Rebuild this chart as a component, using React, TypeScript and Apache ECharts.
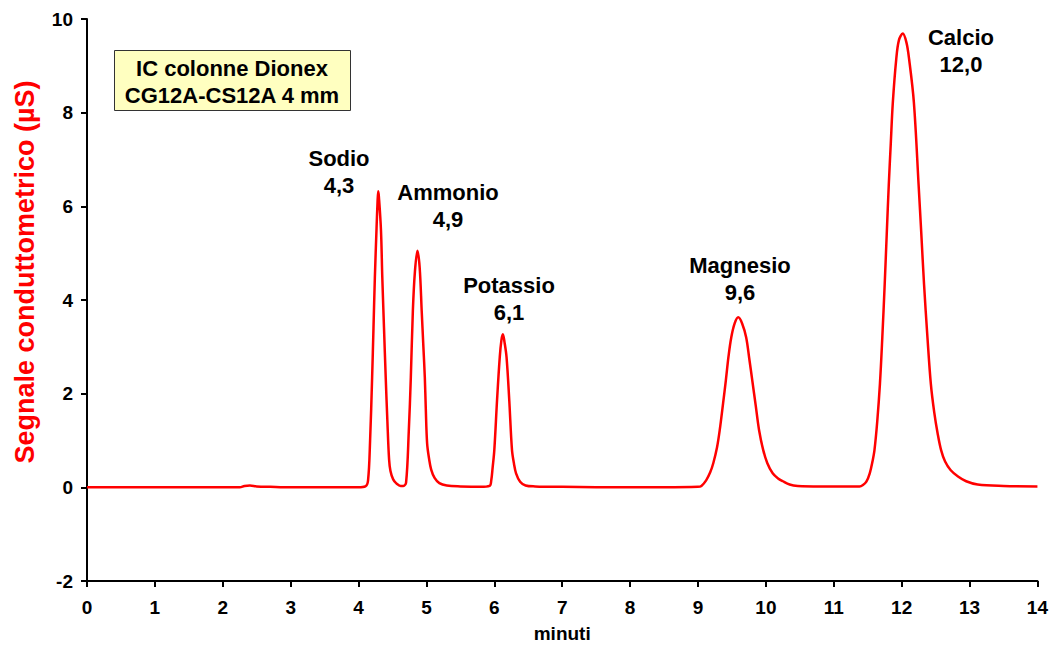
import React, { useEffect, useRef } from "react";
import * as echarts from "echarts";

// retention time (minutes)
const times: number[] = [
  0, 0.5, 1.0, 1.5, 2.0, 2.25, 2.32, 2.4, 2.5, 2.7, 3.0, 3.5, 4.0, 4.1,
  4.14, 4.17, 4.2, 4.22, 4.24, 4.265, 4.28, 4.29, 4.3, 4.33, 4.35, 4.375, 4.4, 4.425, 4.45, 4.47, 4.51, 4.56, 4.62, 4.66,
  4.7, 4.74, 4.77, 4.8, 4.83, 4.867, 4.9, 4.93, 4.955, 4.976, 4.99, 5.01, 5.04, 5.07, 5.12, 5.19, 5.3, 5.5, 5.8, 5.93,
  5.955, 5.975, 6.0, 6.04, 6.08, 6.105, 6.126, 6.15, 6.18, 6.22, 6.26, 6.29, 6.32, 6.38, 6.46, 6.6, 7.0, 8.0, 8.5, 9.0,
  9.05, 9.12, 9.18, 9.226, 9.28, 9.32, 9.37, 9.41, 9.45, 9.49, 9.54, 9.593, 9.65, 9.71, 9.755, 9.8, 9.85, 9.9, 9.96, 10.02, 10.1, 10.18, 10.25, 10.35, 10.47, 10.8, 11.2, 11.38,
  11.43, 11.48, 11.53, 11.57, 11.6, 11.64, 11.68, 11.715, 11.75, 11.78, 11.81, 11.84, 11.87, 11.92, 11.96, 12.017, 12.07, 12.11, 12.18, 12.25, 12.29, 12.33, 12.38, 12.43, 12.48, 12.53, 12.58, 12.64, 12.72, 12.83, 12.95, 13.12, 13.5, 14.0,
];

// conductivity signal (µS)
const signal: number[] = [
  0, 0, 0, 0, 0, 0, 0.03, 0.04, 0.02, 0.01, 0, 0, 0, 0.02,
  0.15, 1.0, 2.35, 3.4, 4.47, 5.53, 6.1, 6.32, 6.2, 5.5, 4.47, 3.4, 2.35, 1.4, 0.59, 0.35, 0.17, 0.08, 0.03, 0.03,
  0.1, 1.2, 2.35, 3.77, 4.6, 5.05, 4.7, 3.77, 3.0, 2.35, 1.7, 0.94, 0.6, 0.38, 0.2, 0.09, 0.04, 0.02, 0.01, 0.03,
  0.15, 0.42, 0.8, 1.86, 2.78, 3.15, 3.27, 3.1, 2.78, 1.86, 0.8, 0.5, 0.3, 0.12, 0.04, 0.02, 0.01, 0, 0, 0.01,
  0.03, 0.15, 0.32, 0.52, 0.85, 1.22, 1.8, 2.28, 2.8, 3.2, 3.5, 3.63, 3.5, 3.2, 2.75, 2.28, 1.75, 1.22, 0.8, 0.52, 0.3, 0.19, 0.13, 0.06, 0.03, 0.02, 0.02, 0.02,
  0.05, 0.12, 0.3, 0.55, 0.8, 1.4, 2.21, 3.2, 4.33, 5.4, 6.45, 7.35, 8.22, 9.14, 9.55, 9.69, 9.5, 9.14, 8.22, 6.45, 5.4, 4.33, 3.2, 2.21, 1.6, 1.15, 0.8, 0.55, 0.37, 0.23, 0.13, 0.06, 0.03, 0.02,
];

const peakNames: string[] = ["Sodio", "Ammonio", "Potassio", "Magnesio", "Calcio"];
const peakTimes: string[] = ["4,3", "4,9", "6,1", "9,6", "12,0"];
// label anchor (pixel) positions
const labelPos: [number, number][] = [
  [339, 158],
  [448, 192],
  [509, 285],
  [740, 265],
  [961, 37],
];

const xTicks = { min: 0, max: 14, interval: 1 };
const yTicks = { min: -2, max: 10, interval: 2 };

const FONT = "'Liberation Sans', Arial, sans-serif";

export default function App() {
  const ref = useRef<HTMLDivElement>(null);
  useEffect(() => {
    if (!ref.current) return;
    const chart = echarts.init(ref.current, undefined, { renderer: "svg" });
    const data = times.map((t, i) => [t, signal[i]]);
    const labels: any[] = [];
    peakNames.forEach((n, i) => {
      const [x, y] = labelPos[i];
      labels.push({
        type: "text",
        x,
        y,
        style: {
          text: n,
          font: `bold 22px ${FONT}`,
          fill: "#000",
          align: "center",
          verticalAlign: "middle",
        },
      });
      labels.push({
        type: "text",
        x,
        y: y + 27,
        style: {
          text: peakTimes[i],
          font: `bold 22px ${FONT}`,
          fill: "#000",
          align: "center",
          verticalAlign: "middle",
        },
      });
    });
    chart.setOption({
      animation: false,
      backgroundColor: "#fff",
      grid: { left: 87, right: 11, top: 19, bottom: 61, containLabel: false },
      xAxis: {
        type: "value",
        min: xTicks.min,
        max: xTicks.max,
        interval: xTicks.interval,
        name: "minuti",
        nameLocation: "middle",
        nameGap: 43,
        nameTextStyle: { color: "#000", fontFamily: FONT, fontWeight: "bold", fontSize: 19 },
        axisLine: { onZero: false, lineStyle: { color: "#000", width: 2 } },
        axisTick: { show: true, inside: false, length: 6, lineStyle: { color: "#000", width: 2 } },
        axisLabel: { color: "#000", fontFamily: FONT, fontWeight: "bold", fontSize: 19, margin: 17 },
        splitLine: { show: false },
      },
      yAxis: {
        type: "value",
        min: yTicks.min,
        max: yTicks.max,
        interval: yTicks.interval,
        axisLine: { show: true, onZero: false, lineStyle: { color: "#000", width: 2 } },
        axisTick: { show: true, inside: false, length: 6, lineStyle: { color: "#000", width: 2 } },
        axisLabel: { color: "#000", fontFamily: FONT, fontWeight: "bold", fontSize: 19, margin: 14 },
        splitLine: { show: false },
      },
      series: [
        {
          type: "line",
          data,
          showSymbol: false,
          smooth: 0.35,
          lineStyle: { color: "#ff0000", width: 2.5 },
          itemStyle: { color: "#ff0000" },
          z: 3,
        },
      ],
      graphic: [
        {
          type: "text",
          x: 25,
          y: 272,
          rotation: Math.PI / 2,
          style: {
            text: "Segnale conduttometrico (µS)",
            font: `bold 27px ${FONT}`,
            fill: "#ff0000",
            align: "center",
            verticalAlign: "middle",
          },
        },
        {
          type: "rect",
          shape: { x: 114.5, y: 50.5, width: 236, height: 60 },
          style: { fill: "#ffffc0", stroke: "#333", lineWidth: 1 },
        },
        {
          type: "text",
          x: 232,
          y: 68,
          style: {
            text: "IC colonne Dionex",
            font: `bold 22px ${FONT}`,
            fill: "#000",
            align: "center",
            verticalAlign: "middle",
          },
        },
        {
          type: "text",
          x: 232,
          y: 95,
          style: {
            text: "CG12A-CS12A 4 mm",
            font: `bold 22px ${FONT}`,
            fill: "#000",
            align: "center",
            verticalAlign: "middle",
          },
        },
        ...labels,
      ],
    });
    return () => chart.dispose();
  }, []);
  return (
    <div
      ref={ref}
      style={{ position: "fixed", left: 0, top: 0, width: 1051, height: 648 }}
    />
  );
}
